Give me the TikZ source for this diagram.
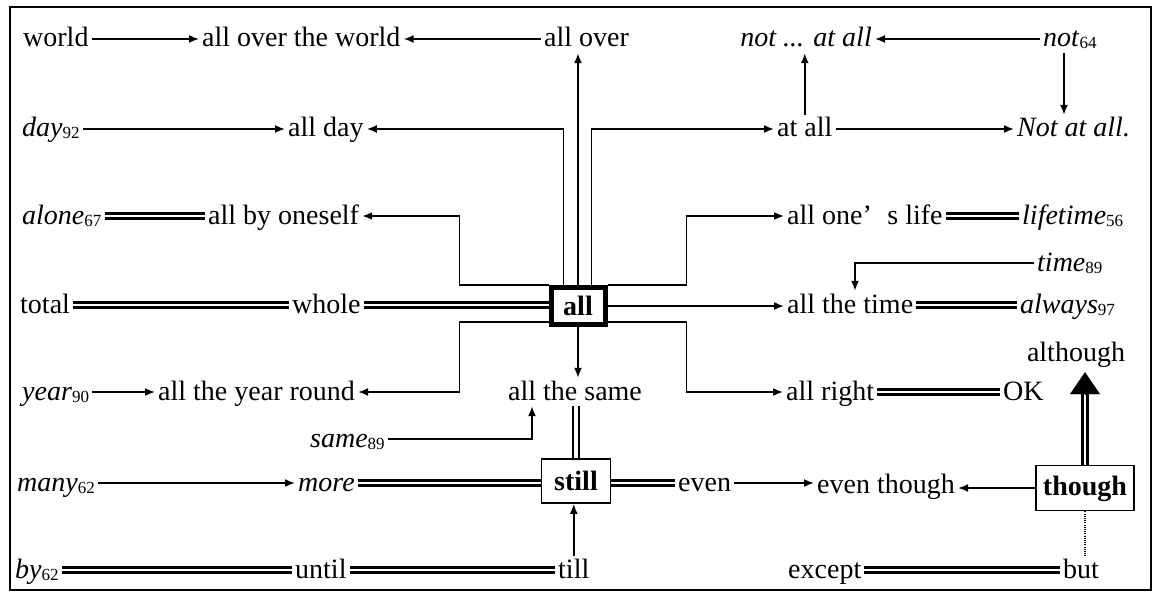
\documentclass[tikz,border=0pt]{standalone}
\usepackage{fontspec}
\setmainfont{Liberation Serif}
\usetikzlibrary{arrows.meta,calc}
\newcommand\sbn[1]{\raisebox{-2pt}{\fontsize{17}{17}\selectfont #1}}
\tikzset{
  txt/.style={font=\fontsize{28}{30}\selectfont, inner xsep=3pt, inner ysep=0pt, text height=22pt, text depth=6pt, anchor=west},
  ctxt/.style={txt, anchor=center},
  arr/.style={line width=1.7pt, -{Latex[length=10pt,width=8pt]}},
  dbl/.style={line width=2.4pt, double, double distance=2.4pt},
  boxnode/.style={draw, line width=1.8pt, font=\fontsize{28}{30}\selectfont\bfseries, inner sep=0pt, text height=19pt, text depth=1pt}
}
\begin{document}
\begin{tikzpicture}[x=1pt,y=-1pt]
\useasboundingbox (0,0) rectangle (1157,599);
\draw[line width=1.8pt] (10,7) rectangle (1151,590);

% row 1
\node[txt] (world) at (20,39) {world};
\node[txt] (aotw) at (199,39) {all over the world};
\node[txt] (allover) at (541,39) {all over};
\node[txt, anchor=east] (notatall) at (875,39) {\textit{not ... at all}};
\node[txt] (not64) at (1040,39) {\textit{not}\sbn{64}};
% row 2
\node[txt] (day92) at (19,129) {\textit{day}\sbn{92}};
\node[txt] (allday) at (285,129) {all day};
\node[txt] (atall) at (774,129) {at all};
\node[txt] (NotAtAll) at (1014,129) {\textit{Not at all.}};
% row 3
\node[txt] (alone67) at (19,216) {\textit{alone}\sbn{67}};
\node[txt] (allbyoneself) at (205,216) {all by oneself};
\node[txt] (allonelife) at (784,216) {all one’\hspace{0.55em}s life};
\node[txt] (lifetime56) at (1019,216) {\textit{lifetime}\sbn{56}};
% row 4
\node[txt] (total) at (17,305) {total};
\node[txt] (whole) at (289,305) {whole};
\node[boxnode, line width=5pt, minimum width=54pt, minimum height=37pt] (all) at (578,306) {all};
\node[txt] (time89) at (1034,263) {\textit{time}\sbn{89}};
\node[txt] (allthetime) at (784,305) {all the time};
\node[txt] (always97) at (1017,305) {\textit{always}\sbn{97}};
\node[ctxt] (although) at (1076,353) {although};
% row 5
\node[txt] (year90) at (19,392) {\textit{year}\sbn{90}};
\node[txt] (allyear) at (155,392) {all the year round};
\node[ctxt] (allthesame) at (575,392) {all the same};
\node[txt] (allright) at (783,392) {all right};
\node[txt] (OK) at (1000,392) {OK};
\node[txt] (same89) at (307,439) {\textit{same}\sbn{89}};
% row 6
\node[txt] (many62) at (14,483) {\textit{many}\sbn{62}};
\node[txt] (more) at (295,483) {\textit{more}};
\node[boxnode, minimum width=69pt, minimum height=44pt] (still) at (576,481) {still};
\node[txt] (even) at (675,483) {even};
\node[txt] (eventhough) at (814,485) {even though};
\node[boxnode, minimum width=98pt, minimum height=45pt, text depth=5pt] (though) at (1085,488) {though};
% row 7
\node[txt] (by62) at (12,570) {\textit{by}\sbn{62}};
\node[txt] (until) at (292,570) {until};
\node[txt] (till) at (555,570) {till};
\node[txt] (except) at (785,570) {except};
\node[txt] (but) at (1060,570) {but};

% connectors row 1-2
\draw[arr] (world.east) -- (aotw.west);
\draw[arr] (allover.west) -- (aotw.east);
\draw[arr] (all.north) -- (all.north |- allover.south);
\draw[arr] ($(all.north west)+(15,0)$) |- (allday.west -| allday.east);
\draw[arr] ($(all.north east)+(-16,0)$) |- (atall.west);
\draw[arr] (atall.east) -- (NotAtAll.west);
\draw[arr] (not64.west) -- (notatall.east);
\draw[arr] ($(not64.south west)+(24,0)$) -- ($(not64.south west |- NotAtAll.north)+(24,0)$);
\draw[arr] (atall.north) -- (atall.north |- notatall.south);
\draw[arr] (day92.east) -- (allday.west);
% row 3
\draw[dbl] (alone67.east) -- (allbyoneself.west);
\draw[arr] (all.north west) -- ++(-89,0) |- (allbyoneself.east);
\draw[arr] (all.north east) -- ++(79,0) |- (allonelife.west);
\draw[dbl] (allonelife.east) -- (lifetime56.west);
% row 4
\draw[dbl] (total.east) -- (whole.west);
\draw[dbl] (whole.east) -- (whole.east -| all.west);
\draw[arr] (all.east) -- (all.east -| allthetime.west);
\draw[dbl] (allthetime.east) -- (always97.west);
\draw[arr] (time89.west) -| ($(allthetime.north west)+(71,0)$);
% row 5
\draw[arr] ($(all.south west)+(0,-5)$) -- ++(-89,0) |- (allyear.east);
\draw[arr] (year90.east) -- (allyear.west);
\draw[arr] (all.south) -- (all.south |- allthesame.north);
\draw[arr] ($(all.south east)+(0,-5)$) -- ++(79,0) |- (allright.west);
\draw[dbl] (allright.east) -- (OK.west);
\draw[arr] (same89.east) -| ($(allthesame.south)+(-43,0)$);
\draw[line width=2pt, double, double distance=3.4pt] (still.north) -- (still.north |- allthesame.south);
% row 6
\draw[arr] (many62.east) -- (more.west);
\draw[dbl] (more.east) -- (more.east -| still.west);
\draw[dbl] (still.east |- even.west) -- (even.west);
\draw[arr] (even.east) -- (even.east -| eventhough.west);
\draw[arr] (though.west) -- (though.west -| eventhough.east);
\draw[line width=2.8pt, double, double distance=2.4pt] (though.north) -- ($(though.north |- although.south)+(0,27)$);
\draw[line width=0.1pt, -{Triangle[length=22pt,width=30pt]}] ($(though.north |- although.south)+(0,28)$) -- ($(though.north |- although.south)+(0,5)$);
\draw[line width=1.2pt, dash pattern=on 1pt off 1.2pt] (though.south) -- (though.south |- but.north);
% row 7
\draw[dbl] (by62.east) -- (until.west);
\draw[dbl] (until.east) -- (till.west);
\draw[arr] (till.north) -- (till.north |- still.south);
\draw[dbl] (but.west) -- (except.east);
\end{tikzpicture}
\end{document}
